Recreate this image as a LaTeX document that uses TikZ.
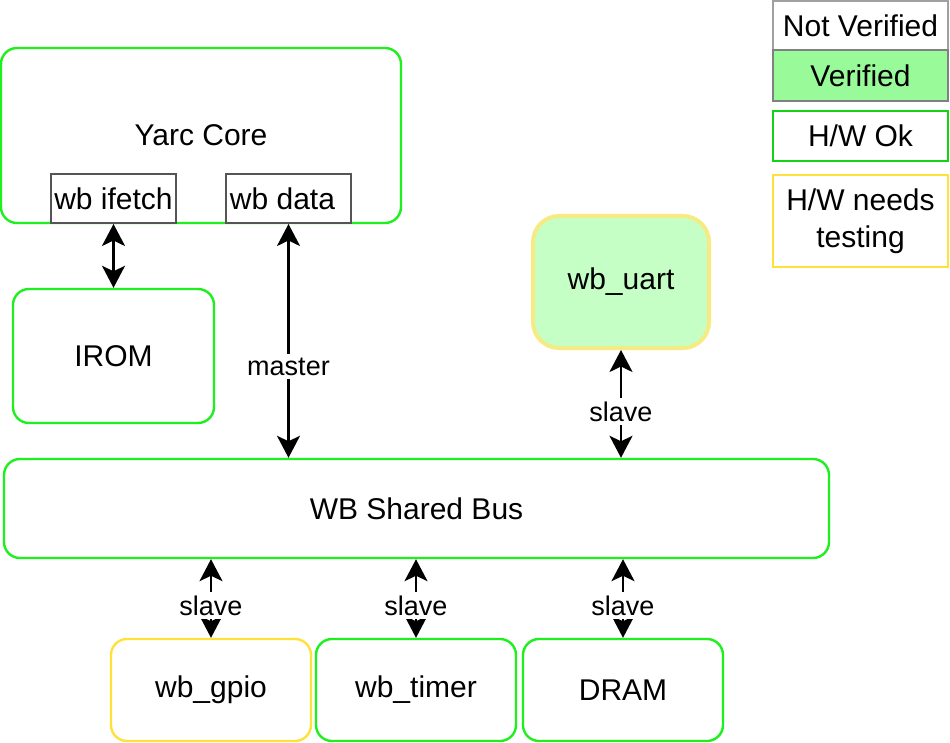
\documentclass[tikz,border=0pt]{standalone}
\usepackage{fontspec}
\setmainfont{Liberation Sans}
\usetikzlibrary{arrows.meta}
\definecolor{hwgreen}{RGB}{30,240,30}
\definecolor{okgreen}{RGB}{20,210,20}
\definecolor{hwyellow}{RGB}{255,225,60}
\definecolor{uartyellow}{RGB}{245,235,130}
\definecolor{uartfill}{RGB}{198,255,198}
\definecolor{verfill}{RGB}{153,250,153}
\definecolor{portgray}{RGB}{85,85,85}
\definecolor{nvgray}{RGB}{160,160,160}
\definecolor{vgray}{RGB}{128,128,128}
\tikzset{
  box/.style={draw=hwgreen, line width=2.4pt, rounded corners=16pt, inner sep=0pt,
    font=\fontsize{30}{34}\selectfont, align=center},
  port/.style={draw=portgray, line width=2pt, fill=white, inner sep=0pt,
    minimum width=125pt, minimum height=49pt, font=\fontsize{30}{34}\selectfont},
  legend/.style={line width=2pt, inner sep=0pt, minimum width=175pt,
    font=\fontsize{30}{37}\selectfont, align=center},
  tipshape/.tip={Stealth[length=22pt,width=23pt,inset=5.5pt]},
  arr/.style={line width=2.4pt, tipshape-tipshape},
  lbl/.style={fill=white, inner xsep=1pt, inner ysep=4pt, font=\fontsize{27}{30}\selectfont}
}
\begin{document}
\begin{tikzpicture}[x=1pt,y=-1pt]
\useasboundingbox (0,0) rectangle (950,743);
% main boxes
\node[box, minimum width=400pt, minimum height=175pt] (core) at (201,135.5) {Yarc Core};
\node[port] (ifetch) at (113.5,198.5) {wb ifetch};
\node[port] (data) at (288.5,198.5) {wb data\rule{12pt}{0pt}};
\node[box, minimum width=201pt, minimum height=134pt] (irom) at (113.5,356) {IROM};
\node[box, draw=uartyellow, fill=uartfill, line width=4pt, rounded corners=26pt,
  minimum width=176pt, minimum height=132pt] (uart) at (621,282) {wb\_uart};
\node[box, minimum width=825pt, minimum height=99pt] (bus) at (416.5,508.5) {WB Shared Bus};
\node[box, draw=hwyellow, minimum width=200pt, minimum height=102pt] (gpio) at (211,690) {wb\_gpio};
\node[box, minimum width=200pt, minimum height=102pt] (timer) at (416,690) {wb\_timer};
\node[box, minimum width=200pt, minimum height=102pt] (dram) at (623,690) {DRAM};
% legend
\node[legend, draw=nvgray, fill=white, minimum height=49pt] (nv) at (860.5,25.5) {Not Verified};
\node[legend, draw=vgray, fill=verfill, minimum height=51pt] (ver) at (860.5,75.5) {Verified};
\node[legend, draw=okgreen, minimum height=50pt] (ok) at (860.5,136) {H/W Ok};
\node[legend, draw=hwyellow, minimum height=92pt] (test) at (860.5,221) {\raisebox{-2pt}{H/W needs}\\\raisebox{-2pt}{testing}};
% connectors
\draw[arr] (ifetch.south) -- (irom.north);
\draw[arr] (data.south) -- (data.south |- bus.north) node[lbl, pos=0.61] {master};
\draw[arr] (uart.south) -- (uart.south |- bus.north) node[lbl, pos=0.57] {slave};
\draw[arr] (gpio.north |- bus.south) -- (gpio.north) node[lbl, pos=0.59] {slave};
\draw[arr] (timer.north |- bus.south) -- (timer.north) node[lbl, pos=0.59] {slave};
\draw[arr] (dram.north |- bus.south) -- (dram.north) node[lbl, pos=0.59] {slave};
\end{tikzpicture}
\end{document}
